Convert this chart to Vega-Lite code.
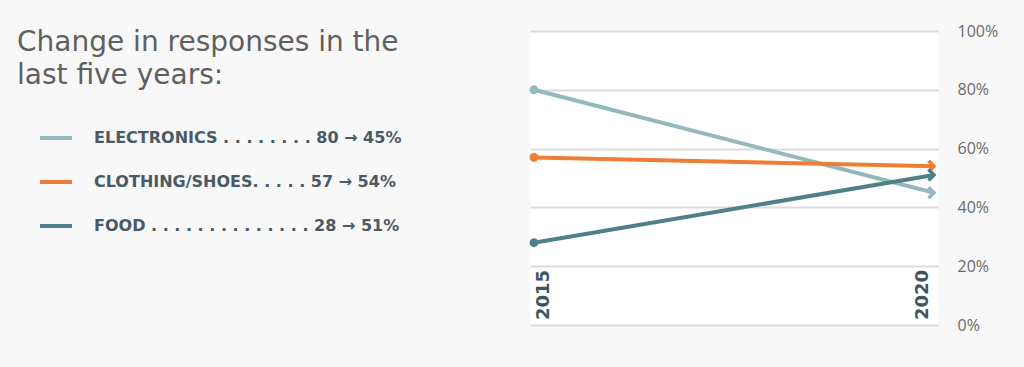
{
  "$schema": "https://vega.github.io/schema/vega-lite/v6.json",
  "autosize": {"type": "none"},
  "width": 408,
  "height": 294,
  "padding": {"left": 530, "top": 31, "right": 86, "bottom": 42},
  "background": "#f8f8f8",
  "view": {"fill": "white", "stroke": null},
  "title": {
    "text": ["Change in responses in the", "last five years:"],
    "anchor": "start",
    "frame": "group",
    "orient": "top",
    "dx": -513,
    "dy": 89,
    "offset": 0,
    "baseline": "alphabetic",
    "font": "DejaVu Sans",
    "fontSize": 28,
    "fontWeight": "normal",
    "color": "#606060",
    "lineHeight": 33
  },
  "data": {
    "values": [
      {"category": "Electronics", "year": 2015, "pct": 80},
      {"category": "Electronics", "year": 2020, "pct": 45},
      {"category": "Clothing/Shoes", "year": 2015, "pct": 57},
      {"category": "Clothing/Shoes", "year": 2020, "pct": 54},
      {"category": "Food", "year": 2015, "pct": 28},
      {"category": "Food", "year": 2020, "pct": 51}
    ]
  },
  "encoding": {
    "x": {
      "field": "year",
      "type": "quantitative",
      "scale": {"domain": [2014.95, 2020.05], "nice": false, "zero": false},
      "axis": null
    },
    "y": {
      "field": "pct",
      "type": "quantitative",
      "scale": {"domain": [0, 100], "nice": false},
      "axis": {
        "orient": "right",
        "values": [0, 20, 40, 60, 80, 100],
        "labelExpr": "datum.value + '%'",
        "title": null,
        "domain": false,
        "ticks": false,
        "labelPadding": 19,
        "labelFont": "Open Sans",
        "labelFontSize": 16,
        "labelColor": "#6a6a6a",
        "gridColor": "#dcdcdc",
        "gridWidth": 2
      }
    }
  },
  "layer": [
    {
      "mark": {"type": "line", "strokeWidth": 4},
      "encoding": {
        "color": {
          "field": "category",
          "type": "nominal",
          "scale": {
            "domain": ["Electronics", "Clothing/Shoes", "Food"],
            "range": ["#93b9be", "#ee7d36", "#4f8087"]
          },
          "legend": {
            "orient": "none",
            "legendX": -492,
            "legendY": 89,
            "title": null,
            "symbolType": "stroke",
            "symbolSize": 1024,
            "symbolStrokeWidth": 4,
            "labelOffset": 20,
            "rowPadding": 18,
            "labelFont": "DejaVu Sans",
            "labelFontWeight": "bold",
            "labelFontSize": 16,
            "labelColor": "#4b5a64",
            "labelLimit": 400,
            "labelExpr": "datum.label == 'Electronics' ? 'ELECTRONICS . . . . . . . . 80 → 45%' : datum.label == 'Food' ? 'FOOD . . . . . . . . . . . . . . 28 → 51%' : 'CLOTHING/SHOES. . . . . 57 → 54%'"
          }
        }
      }
    },
    {
      "transform": [{"filter": "datum.year == 2015"}],
      "mark": {"type": "point", "shape": "circle", "filled": true, "size": 80, "opacity": 1},
      "encoding": {
        "fill": {
          "field": "category",
          "type": "nominal",
          "scale": {
            "domain": ["Electronics", "Clothing/Shoes", "Food"],
            "range": ["#93b9be", "#ee7d36", "#4f8087"]
          },
          "legend": null
        }
      }
    },
    {
      "transform": [{"filter": "datum.year == 2020"}],
      "mark": {"type": "point", "shape": "M-1,-1L0,0L-1,1", "filled": false, "size": 120, "strokeWidth": 3.5, "opacity": 1, "strokeJoin": "miter"},
      "encoding": {
        "stroke": {
          "field": "category",
          "type": "nominal",
          "scale": {
            "domain": ["Electronics", "Clothing/Shoes", "Food"],
            "range": ["#93b9be", "#ee7d36", "#4f8087"]
          },
          "legend": null
        }
      }
    },
    {
      "transform": [{"filter": "datum.category == 'Food' && datum.year == 2015"}],
      "mark": {"type": "text", "angle": 270, "align": "left", "baseline": "top", "dx": 5, "dy": 1, "font": "DejaVu Sans", "fontWeight": "bold", "fontSize": 18, "color": "#3f5361"},
      "encoding": {
        "y": {"datum": 0},
        "text": {"field": "year", "type": "nominal"}
      }
    },
    {
      "transform": [{"filter": "datum.category == 'Food' && datum.year == 2020"}],
      "mark": {"type": "text", "angle": 270, "align": "left", "baseline": "bottom", "dx": 5, "dy": -2, "font": "DejaVu Sans", "fontWeight": "bold", "fontSize": 18, "color": "#3f5361"},
      "encoding": {
        "y": {"datum": 0},
        "text": {"field": "year", "type": "nominal"}
      }
    }
  ]
}
